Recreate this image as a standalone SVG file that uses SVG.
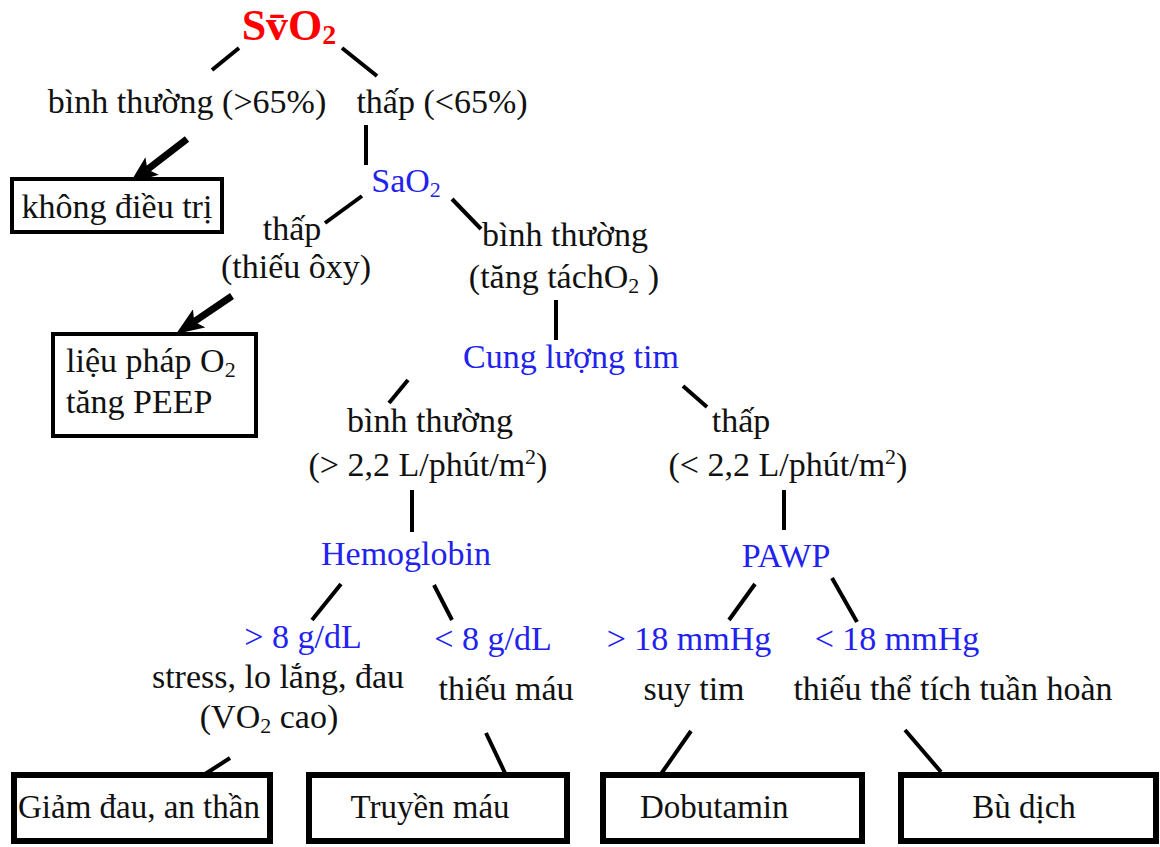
<svg xmlns="http://www.w3.org/2000/svg" width="1160" height="847" viewBox="0 0 1160 847">
<style>
text{font-family:"Liberation Serif","Times New Roman",serif;font-size:34px;fill:#111}
.b{fill:#2222ee}
.r{fill:#ff0000;font-weight:bold;font-size:44px}
.m{text-anchor:middle}
.bx{fill:#fff;stroke:#000;stroke-width:4}
.bx2{fill:#fff;stroke:#000;stroke-width:6}
.ln{stroke:#000;stroke-width:4;stroke-linecap:butt;fill:none}
.ar{stroke:#000;stroke-width:7;fill:none}
.s{font-size:22px}
.rs{font-size:28px}
</style>
<defs>
<marker id="ah" markerUnits="userSpaceOnUse" viewBox="0 0 28 22" refX="6" refY="11" markerWidth="28" markerHeight="22" orient="auto">
<path d="M0,0 L28,11 L0,22 L6,11 z" fill="#000"/>
</marker>
</defs>
<rect width="1160" height="847" fill="#fff"/>
<g id="connectors">
<line class="ln" x1="212" y1="70" x2="239" y2="48"/>
<line class="ln" x1="342" y1="48" x2="377" y2="76"/>
<line class="ln" x1="366" y1="125" x2="366" y2="165"/>
<line class="ln" x1="325" y1="223" x2="362" y2="196"/>
<line class="ln" x1="452" y1="199" x2="481" y2="229"/>
<line class="ln" x1="556" y1="300" x2="556" y2="340"/>
<line class="ln" x1="408" y1="380" x2="389" y2="403"/>
<line class="ln" x1="683" y1="386" x2="707" y2="407"/>
<line class="ln" x1="412" y1="490" x2="412" y2="532"/>
<line class="ln" x1="784" y1="490" x2="784" y2="530"/>
<line class="ln" x1="341" y1="584" x2="312" y2="620"/>
<line class="ln" x1="434" y1="585" x2="452" y2="620"/>
<line class="ln" x1="755" y1="584" x2="729" y2="620"/>
<line class="ln" x1="832" y1="578" x2="857" y2="622"/>
<line class="ln" x1="230" y1="758" x2="202" y2="776"/>
<line class="ln" x1="486" y1="733" x2="505" y2="773"/>
<line class="ln" x1="691" y1="731" x2="661" y2="774"/>
<line class="ln" x1="905" y1="730" x2="941" y2="772"/>
<line class="ar" x1="187" y1="139" x2="147.4" y2="169.6" marker-end="url(#ah)"/>
<line class="ar" x1="232" y1="296" x2="194.2" y2="321.7" marker-end="url(#ah)"/>
</g>
<g id="svo2"><text class="r m" x="289" y="40">Sv̄O<tspan class="rs" dy="4">2</tspan></text></g>
<g id="normal1"><text class="m" x="187" y="113">bình thường (&gt;65%)</text></g>
<g id="low1"><text class="m" x="442" y="113">thấp (&lt;65%)</text></g>
<g id="notreat"><rect class="bx" x="12" y="179" width="210" height="53"/><text class="m" x="117" y="218">không điều trị</text></g>
<g id="sao2"><text class="b m" x="406" y="192">SaO<tspan class="s" dy="5">2</tspan></text></g>
<g id="low2"><text class="m" x="292" y="240">thấp</text><text class="m" x="296" y="278">(thiếu ôxy)</text></g>
<g id="normal2"><text class="m" x="565" y="246">bình thường</text><text class="m" x="564" y="288">(tăng táchO<tspan class="s" dy="5">2</tspan><tspan dy="-5"> )</tspan></text></g>
<g id="o2therapy"><rect class="bx" x="53" y="334" width="203" height="102"/><text x="66" y="372">liệu pháp O<tspan class="s" dy="5">2</tspan></text><text x="66" y="413">tăng PEEP</text></g>
<g id="co"><text class="b m" x="571" y="368">Cung lượng tim</text></g>
<g id="normal3"><text class="m" x="430" y="432">bình thường</text><text class="m" x="428" y="476">(&gt; 2,2 L/phút/m<tspan class="s" dy="-12">2</tspan><tspan dy="12">)</tspan></text></g>
<g id="low3"><text class="m" x="741" y="432">thấp</text><text class="m" x="788" y="476">(&lt; 2,2 L/phút/m<tspan class="s" dy="-12">2</tspan><tspan dy="12">)</tspan></text></g>
<g id="hb"><text class="b m" x="406" y="565">Hemoglobin</text></g>
<g id="pawp"><text class="b m" x="786" y="567">PAWP</text></g>
<g id="hbhigh"><text class="b m" x="303" y="648">&gt; 8 g/dL</text><text class="m" x="278" y="688">stress, lo lắng, đau</text><text class="m" x="269" y="728">(VO<tspan class="s" dy="5">2</tspan><tspan dy="-5"> cao)</tspan></text></g>
<g id="hblow"><text class="b m" x="493" y="650">&lt; 8 g/dL</text><text class="m" x="506" y="700">thiếu máu</text></g>
<g id="pawphigh"><text class="b m" x="689" y="650">&gt; 18 mmHg</text><text class="m" x="694" y="700">suy tim</text></g>
<g id="pawplow"><text class="b m" x="897" y="650">&lt; 18 mmHg</text><text class="m" x="953" y="700">thiếu thể tích tuần hoàn</text></g>
<g id="analgesia"><rect class="bx2" x="14" y="775" width="256" height="66"/><text x="18" y="818" style="font-size:33px">Giảm đau, an thần</text></g>
<g id="transfusion"><rect class="bx2" x="309" y="775" width="258" height="66"/><text class="m" x="430" y="818" style="font-size:33px">Truyền máu</text></g>
<g id="dobutamine"><rect class="bx2" x="603" y="775" width="259" height="66"/><text x="640" y="818" style="font-size:33px">Dobutamin</text></g>
<g id="fluids"><rect class="bx2" x="901" y="775" width="255" height="66"/><text class="m" x="1024" y="818" style="font-size:33px">Bù dịch</text></g>
</svg>
